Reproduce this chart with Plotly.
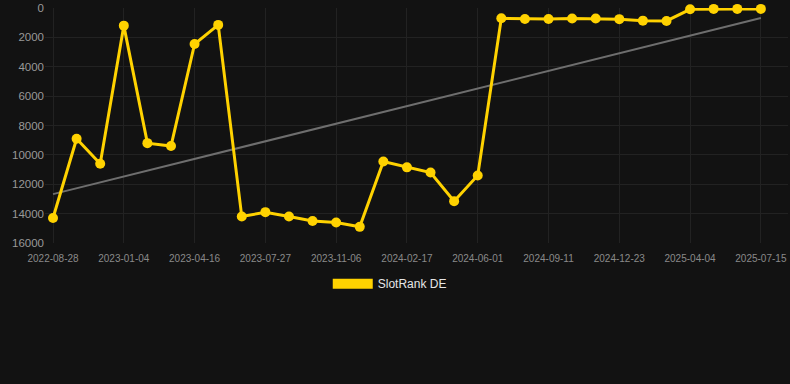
import numpy as np
import plotly.graph_objects as go

dates = ["2022-08-28", "2022-10-10", "2022-11-22", "2023-01-04", "2023-02-07", "2023-03-13",
         "2023-04-16", "2023-05-20", "2023-06-23", "2023-07-27", "2023-08-30", "2023-10-03",
         "2023-11-06", "2023-12-10", "2024-01-13", "2024-02-17", "2024-03-22", "2024-04-27",
         "2024-06-01", "2024-07-05", "2024-08-08", "2024-09-11", "2024-10-15", "2024-11-19",
         "2024-12-23", "2025-01-26", "2025-03-01", "2025-04-04", "2025-05-08", "2025-06-11",
         "2025-07-15"]
rank_de = [14300, 8900, 10600, 1200, 9200, 9400, 2450, 1150, 14200, 13900, 14200, 14500,
           14600, 14900, 10450, 10850, 11200, 13150, 11400, 700, 750, 750, 720, 720,
           760, 860, 880, 90, 60, 60, 60]
y_ticks = [0, 2000, 4000, 6000, 8000, 10000, 12000, 14000, 16000]
y_tick_labels = [str(v) for v in y_ticks]
x_tick_labels = dates[::3]

idx = np.arange(len(rank_de))
slope, intercept = np.polyfit(idx, rank_de, 1)
trend = slope * idx + intercept

GOLD = "#FFD200"
BG = "#121212"

fig = go.Figure()
fig.add_trace(go.Scatter(
    x=dates, y=trend, mode="lines",
    line=dict(color="#6e6e6e", width=2),
    showlegend=False, hoverinfo="skip"))
fig.add_trace(go.Scatter(
    x=dates, y=rank_de, mode="lines+markers",
    line=dict(color=GOLD, width=3),
    marker=dict(color=GOLD, size=10),
    cliponaxis=False,
    showlegend=False, name="SlotRank DE"))
fig.add_trace(go.Scatter(
    x=[None], y=[None], mode="lines",
    line=dict(color=GOLD, width=12),
    name="SlotRank DE", showlegend=True))

fig.update_layout(
    width=790, height=384,
    paper_bgcolor=BG, plot_bgcolor=BG,
    margin=dict(l=45, r=2, t=6, b=141),
    font=dict(family="Liberation Sans, Arial, sans-serif", color="#999999"),
    showlegend=True,
    legend=dict(orientation="h", x=0.464, xanchor="center", y=-0.173, yanchor="middle",
                font=dict(size=12, color="#e6e6e6"), bgcolor="rgba(0,0,0,0)",
                itemwidth=40),
)
fig.update_xaxes(
    type="category", categoryorder="array", categoryarray=dates,
    range=[-0.34, 31.15],
    tickmode="array", tickvals=x_tick_labels, ticktext=x_tick_labels,
    tickfont=dict(size=10, color="#8a8a8a"),
    ticklabelstandoff=8,
    showgrid=True, gridcolor="#222222", gridwidth=1,
    zeroline=False, showline=False, ticks="",
)
fig.update_yaxes(
    range=[16000, 0], tickmode="array", tickvals=y_ticks, ticktext=y_tick_labels,
    tickfont=dict(size=11.5, color="#999999"),
    showgrid=True, gridcolor="#222222", gridwidth=1,
    zeroline=False, showline=False, ticks="",
)

fig.write_html(
    "out.html",
    config={"displayModeBar": False},
    post_script="document.body.style.margin='0';document.body.style.background='#121212';",
)
